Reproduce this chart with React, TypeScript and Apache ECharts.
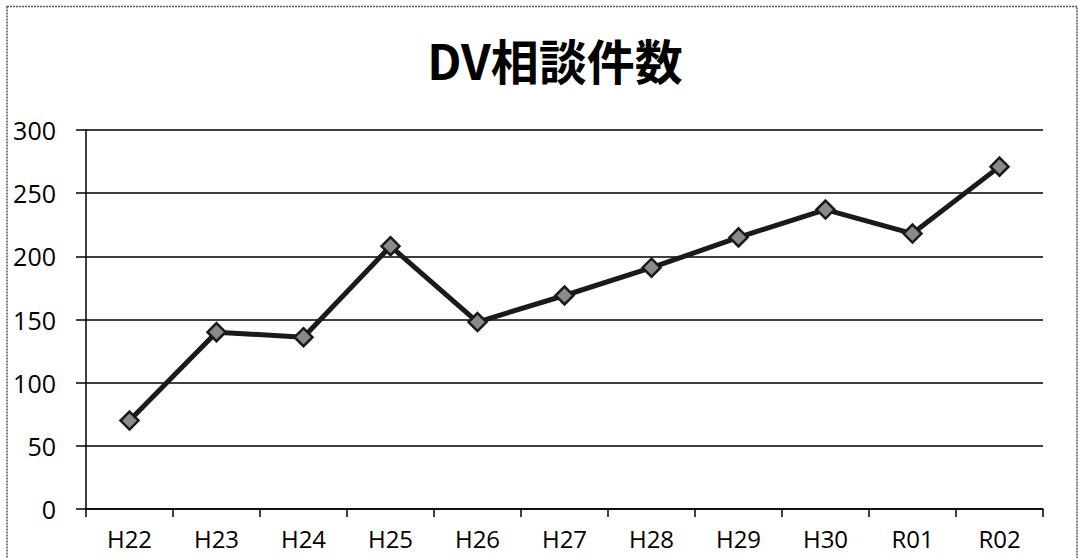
import React, { useEffect, useRef } from "react";
import * as echarts from "echarts";

const categories = ["H22", "H23", "H24", "H25", "H26", "H27", "H28", "H29", "H30", "R01", "R02"];
const counts = [70, 140, 136, 208, 148, 169, 191, 215, 237, 218, 271];
const titleText = "DV相談件数";

export default function App() {
  const ref = useRef<HTMLDivElement>(null);
  useEffect(() => {
    if (!ref.current) return;
    const chart = echarts.init(ref.current, null, { renderer: "svg" });
    chart.setOption({
      animation: false,
      backgroundColor: "#ffffff",
      title: {
        text: titleText,
        left: 550,
        top: 30,
        textAlign: "center",
        textStyle: {
          fontFamily: "Noto Sans CJK JP",
          fontWeight: "bold",
          fontSize: 48,
          color: "#000",
        },
      },
      graphic: [
        {
          type: "rect",
          shape: { x: 7, y: 6.5, width: 1070, height: 560 },
          style: { fill: "none", stroke: "#555", lineWidth: 1.5, lineDash: [2, 1] },
          silent: true,
        },
      ],
      grid: { left: 86, right: 36, top: 130, bottom: 49 },
      xAxis: {
        type: "category",
        data: categories,
        boundaryGap: true,
        axisLine: { show: true, lineStyle: { color: "#000", width: 1.5 } },
        axisTick: { show: true, alignWithLabel: false, length: 8, lineStyle: { color: "#000", width: 1.5 } },
        axisLabel: {
          color: "#000",
          fontFamily: "Open Sans",
          fontSize: 24,
          margin: 17,
        },
        splitLine: { show: false },
      },
      yAxis: {
        type: "value",
        min: 0,
        max: 300,
        interval: 50,
        axisLine: { show: true, lineStyle: { color: "#000", width: 1.5 } },
        axisTick: { show: true, inside: false, length: 10, lineStyle: { color: "#000", width: 1.5 } },
        axisLabel: {
          color: "#000",
          fontFamily: "Open Sans",
          fontSize: 25,
          margin: 30,
        },
        splitLine: { show: true, lineStyle: { color: "#000", width: 1.5 } },
      },
      series: [
        {
          type: "line",
          data: counts,
          symbol: "diamond",
          symbolSize: 18,
          lineStyle: { color: "#1a1a1a", width: 5 },
          itemStyle: { color: "#8a8a8a", borderColor: "#1a1a1a", borderWidth: 2.5 },
        },
      ],
    });
    return () => chart.dispose();
  }, []);
  return (
    <div
      ref={ref}
      style={{ position: "absolute", left: 0, top: 0, width: 1079, height: 558 }}
    />
  );
}
